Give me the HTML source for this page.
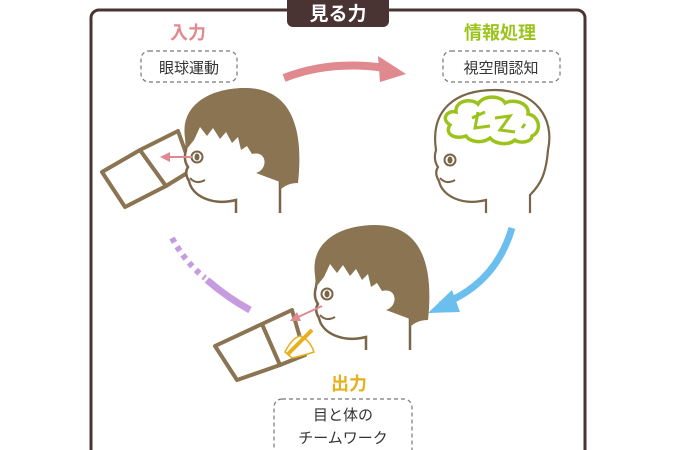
<!DOCTYPE html>
<html><head><meta charset="utf-8"><style>
html,body{margin:0;padding:0;background:#fff;width:675px;height:450px;overflow:hidden}
svg{display:block}
text{font-family:"Liberation Sans","Noto Sans CJK JP",sans-serif}
</style></head><body>
<svg width="675" height="450" viewBox="0 0 675 450">
<defs>
<g id="face">
<path d="M236,213 L236,200 C212,206 192,196 189,181 Q184,173 188,167 Q183,160 186,150 L190,120 L280,110 L280,213" fill="#fff" stroke="#7a6548" stroke-width="2.5"/>
<circle cx="197" cy="157" r="5.5" fill="#fff" stroke="#7a6548" stroke-width="2"/>
<ellipse cx="197" cy="157" rx="2.5" ry="3.5" fill="#7a6548"/>
<path d="M190,178 Q196,185 205,180" fill="none" stroke="#7a6548" stroke-width="2"/>
</g>
<g id="hair">
<path d="M186,150 L185,138 C180,105 210,88 245,88 C285,88 305,118 298,183 C290,183 284,186 280,190 L280,182 L256,173 C268,170 268,150 252,154 L247,146 L241,150 L238,137 L232,143 L226,132 L220,139 L213,128 L207,136 L200,127 L194,140 Z" fill="#8a7452"/>
</g>
</defs>
<!-- frame -->
<rect x="91" y="10" width="494" height="460" rx="8" fill="none" stroke="#4a3433" stroke-width="3"/>
<rect x="287" y="-6" width="102" height="33" rx="6" fill="#4a3433"/>
<text x="338" y="20" font-size="19" font-weight="bold" fill="#fff" text-anchor="middle">見る力</text>

<!-- labels -->
<text x="188" y="39" font-size="18" font-weight="bold" fill="#e08a8f" text-anchor="middle">入力</text>
<rect x="141" y="51" width="96" height="31" rx="8" fill="none" stroke="#777" stroke-width="1.2" stroke-dasharray="4,3"/>
<text x="189" y="73" font-size="15" fill="#333" text-anchor="middle">眼球運動</text>

<text x="500" y="39" font-size="18" font-weight="bold" fill="#9cc31c" text-anchor="middle">情報処理</text>
<rect x="443" y="51" width="117" height="31" rx="8" fill="none" stroke="#777" stroke-width="1.2" stroke-dasharray="4,3"/>
<text x="501" y="73" font-size="15" fill="#333" text-anchor="middle">視空間認知</text>

<text x="349" y="390" font-size="18" font-weight="bold" fill="#e8b020" text-anchor="middle">出力</text>
<rect x="274" y="399" width="138" height="60" rx="8" fill="none" stroke="#777" stroke-width="1.2" stroke-dasharray="4,3"/>
<text x="343" y="420" font-size="15" fill="#333" text-anchor="middle">目と体の</text>
<text x="343" y="443" font-size="15" fill="#333" text-anchor="middle">チームワーク</text>

<!-- pink arrow -->
<path d="M284,78 Q330,60 385,68" fill="none" stroke="#e08a8f" stroke-width="8"/>
<polygon points="378,56 406,74 380,82" fill="#e08a8f"/>
<!-- blue arrow -->
<path d="M512,228 Q495,285 440,305" fill="none" stroke="#6bbfee" stroke-width="7"/>
<polygon points="428,313 452,290 460,312" fill="#6bbfee"/>
<!-- purple -->
<path d="M172,238 Q185,262 205,278" fill="none" stroke="#c79be0" stroke-width="6" stroke-dasharray="5,5"/>
<path d="M207,280 Q228,298 250,310" fill="none" stroke="#c79be0" stroke-width="7"/>

<!-- left book -->
<polygon points="102,172 140,150 166,186 125,207" fill="#fff" stroke="#8a7452" stroke-width="4" stroke-linejoin="round"/>
<polygon points="140,150 178,131 192,170 166,186" fill="#fff" stroke="#8a7452" stroke-width="4" stroke-linejoin="round"/>
<!-- left head -->
<use href="#face"/>
<use href="#hair"/>
<circle cx="252" cy="164" r="9" fill="#fff"/>
<line x1="192" y1="157" x2="166" y2="157" stroke="#e08a8f" stroke-width="2"/>
<polygon points="160,157 170,152 170,162" fill="#e08a8f"/>

<!-- right head (outline) -->
<g transform="translate(250,0)">
<path d="M236,213 L236,200 C212,206 192,196 189,181 Q184,173 188,167 Q183,160 186,150 C180,110 205,90 245,90 C285,90 305,118 298,150 C296,175 290,185 280,195 L280,213" fill="#fff" stroke="#7a6548" stroke-width="2.2"/>
<circle cx="200" cy="160" r="5.5" fill="#fff" stroke="#7a6548" stroke-width="2"/>
<ellipse cx="200" cy="160" rx="2.5" ry="3.5" fill="#7a6548"/>
<path d="M190,178 Q196,185 205,180" fill="none" stroke="#7a6548" stroke-width="2"/>
</g>
<path d="M450,125 C440,118 448,110 456,112 C455,100 472,98 478,104 C484,94 502,96 505,103 C515,98 530,104 528,114 C540,116 542,132 532,136 C532,142 520,144 515,140 C508,146 495,144 490,138 C482,144 470,142 466,136 C455,140 444,134 450,125 Z" fill="none" stroke="#9cc31c" stroke-width="3.5"/>
<path d="M472,118 L485,112 M478,112 L475,128 L490,126 M495,118 L510,116 L500,130 L515,132 M522,128 L525,124" fill="none" stroke="#9cc31c" stroke-width="3"/>

<!-- bottom book -->
<polygon points="215,346 262,324 280,365 237,380" fill="#fff" stroke="#8a7452" stroke-width="4" stroke-linejoin="round"/>
<polygon points="262,324 292,310 305,355 280,365" fill="#fff" stroke="#8a7452" stroke-width="4" stroke-linejoin="round"/>
<!-- bottom head -->
<g transform="translate(130,137)">
<use href="#face"/>
<use href="#hair"/>
<circle cx="252" cy="164" r="9" fill="#fff"/>
</g>
<line x1="322" y1="306" x2="296" y2="318" stroke="#e08a8f" stroke-width="2"/>
<polygon points="290,321 297,312 301,321" fill="#e08a8f"/>
<!-- hand + pencil -->
<path d="M285,352 Q292,338 300,336 Q310,340 314,352 Q305,355 292,358 Z" fill="#fff" stroke="#e8b020" stroke-width="1.5"/>
<line x1="288" y1="354" x2="312" y2="330" stroke="#e8b020" stroke-width="4"/>
</svg>
</body></html>
